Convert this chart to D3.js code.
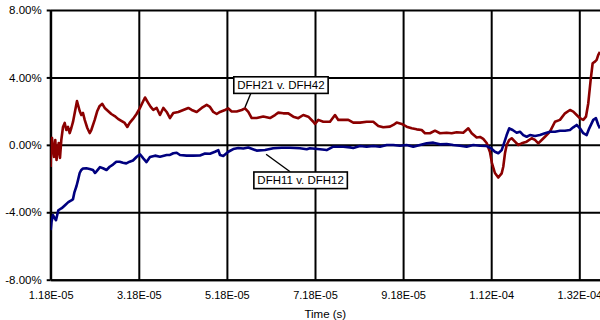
<!DOCTYPE html>
<html>
<head>
<meta charset="utf-8">
<script src="https://cdn.jsdelivr.net/npm/d3@7"></script>
<style>
  body { margin: 0; background: #fff; }
  svg { display: block; }
  text { font-family: Arial, "Liberation Sans", sans-serif; fill: #000; }
</style>
</head>
<body>
<svg id="chart" width="600" height="320"></svg>
<script>
// Relative difference between gauge pairs over time (time in microseconds, difference in %)
const seriesNames = ["DFH21 v. DFH42", "DFH11 v. DFH12"];
const seriesColors = ["#8b0000", "#00007f"];

const redTime = [11.80, 11.91, 12.10, 12.32, 12.55, 12.84, 13.12, 13.30, 13.62, 13.91, 14.21, 14.59, 14.98, 15.34, 15.73,
  16.11, 16.48, 16.86, 17.25, 17.77, 18.38, 18.75, 19.13, 19.52, 20.11, 20.65, 21.02, 21.79, 22.38, 22.92, 23.51, 24.06,
  24.81, 25.56, 26.33, 27.08, 27.83, 28.60, 29.19, 29.73, 30.48, 31.28, 32.07, 32.82, 33.21, 33.96, 34.50, 35.09, 35.86,
  36.61, 37.36, 38.13, 38.88, 39.63, 40.77, 41.90, 43.04, 43.81, 44.94, 46.08, 47.21, 47.96, 48.71, 49.48, 50.23, 51.37,
  52.12, 52.89, 54.02, 55.16, 55.91, 56.66, 57.43, 58.56, 60.06, 61.58, 62.72, 63.47, 64.60, 65.74, 66.87, 68.01, 69.14,
  70.28, 71.41, 71.80, 72.55, 73.68, 75.20, 76.34, 77.09, 78.22, 79.36, 80.49, 82.01, 83.53, 85.03, 86.17, 87.30, 88.82,
  89.57, 90.34, 91.48, 92.61, 93.75, 94.88, 96.02, 96.77, 97.90, 99.04, 100.17, 101.69, 102.83, 103.96, 105.46, 106.60,
  107.37, 108.50, 109.25, 110.00, 110.77, 111.52, 111.97, 112.65, 113.41, 114.18, 114.54, 114.93, 115.31, 115.90, 116.45,
  117.20, 117.95, 118.72, 119.85, 120.99, 121.74, 122.49, 123.26, 124.01, 125.14, 126.28, 127.41, 128.55, 129.68, 130.43,
  131.20, 131.95, 132.70, 133.31, 133.84, 134.38, 134.83, 135.36, 135.74, 136.11, 136.49];
const redPct = [-1.32, 0.29, 0.41, -0.31, -0.72, 0.29, -0.90, -0.48, 0.11, -0.78, 0.29, 1.06, 1.30, 0.88, 1.06,
  0.70, 1.00, 1.36, 1.89, 2.60, 2.01, 1.77, 1.89, 1.48, 1.00, 0.70, 0.88, 1.48, 2.01, 2.31, 2.43, 2.19,
  2.01, 1.83, 1.71, 1.54, 1.42, 1.30, 1.06, 1.30, 1.54, 1.83, 2.19, 2.60, 2.81, 2.48, 2.25, 2.07, 2.19,
  1.77, 2.19, 1.95, 1.59, 1.89, 1.95, 2.07, 2.19, 2.07, 1.95, 2.19, 2.37, 2.25, 1.95, 1.83, 1.95, 2.07,
  2.16, 1.98, 1.98, 2.07, 2.16, 1.95, 1.59, 1.59, 1.68, 1.59, 1.77, 1.91, 1.87, 1.87, 1.67, 1.58, 1.77,
  1.67, 1.37, 1.24, 1.48, 1.37, 1.37, 1.77, 1.48, 1.48, 1.48, 1.32, 1.32, 1.37, 1.37, 1.12, 1.04, 1.08,
  1.18, 1.32, 1.24, 1.08, 0.98, 0.92, 0.88, 0.69, 0.69, 0.84, 0.69, 0.72, 0.69, 0.75, 0.72, 0.98,
  0.69, 0.44, 0.47, 0.35, 0.11, -0.42, -1.08, -1.67, -1.94, -1.69, -1.30, -0.50, -0.01, 0.29, 0.39,
  0.19, -0.01, 0.09, 0.19, 0.39, 0.29, 0.09, 0.29, 0.48, 0.78, 1.37, 1.48, 1.87, 2.07, 1.97,
  1.77, 1.58, 1.48, 1.67, 2.47, 3.85, 4.84, 4.94, 5.04, 5.34, 5.51];

const blueTime = [11.80, 11.98, 12.32, 12.71, 13.00, 13.53, 14.30, 15.05, 15.80, 16.57, 16.86, 17.20, 17.66, 18.00, 18.38,
  18.75, 19.13, 19.88, 20.65, 21.40, 21.86, 22.15, 22.99, 23.67, 24.47, 25.19, 25.94, 26.69, 27.46, 28.21, 28.96, 29.73,
  30.48, 31.28, 31.84, 32.07, 32.82, 33.55, 34.34, 35.48, 36.61, 38.13, 38.88, 39.63, 40.40, 41.15, 42.67, 44.17, 45.69,
  46.83, 47.96, 49.10, 49.85, 50.23, 50.98, 52.12, 53.25, 54.39, 55.52, 56.66, 58.56, 60.45, 62.33, 64.24, 66.12, 68.39,
  69.91, 70.66, 72.93, 74.45, 75.95, 78.22, 79.74, 80.49, 82.01, 83.53, 85.03, 86.55, 88.07, 89.57, 91.09, 92.61, 94.11,
  95.63, 97.15, 98.65, 100.17, 101.69, 103.19, 104.71, 106.23, 107.73, 109.25, 110.77, 111.75, 112.65, 113.41, 114.18,
  114.70, 115.31, 115.90, 116.67, 117.58, 118.33, 119.08, 119.85, 120.60, 121.74, 122.87, 124.01, 125.14, 126.28, 127.41,
  128.55, 129.68, 130.43, 131.20, 131.95, 132.70, 133.47, 134.06, 134.97, 135.58, 136.11, 136.49];
const bluePct = [-5.06, -4.58, -4.17, -4.35, -4.47, -3.88, -3.76, -3.58, -3.40, -3.28, -3.22, -2.80, -2.44, -2.09, -1.67,
  -1.49, -1.40, -1.39, -1.43, -1.49, -1.67, -1.59, -1.32, -1.39, -1.49, -1.30, -1.17, -1.00, -1.00, -1.06, -1.10, -1.00,
  -0.93, -0.72, -0.60, -0.56, -0.80, -1.02, -0.72, -0.64, -0.70, -0.60, -0.60, -0.50, -0.47, -0.60, -0.64, -0.64, -0.63,
  -0.51, -0.53, -0.41, -0.31, -0.60, -0.66, -0.41, -0.25, -0.19, -0.22, -0.16, -0.34, -0.31, -0.20, -0.17, -0.17, -0.20,
  -0.26, -0.20, -0.26, -0.31, -0.11, -0.11, -0.15, -0.19, -0.07, -0.11, -0.07, -0.11, -0.01, -0.01, -0.05, -0.01, -0.11,
  -0.01, 0.09, 0.13, 0.03, 0.05, -0.01, -0.05, -0.11, -0.01, -0.05, -0.07, -0.20, -0.41, -0.50, -0.31,
  0.09, 0.58, 0.98, 0.88, 0.72, 0.78, 0.58, 0.48, 0.58, 0.53, 0.58, 0.69, 0.78, 0.78, 0.84,
  0.84, 0.88, 1.04, 1.18, 0.98, 0.69, 0.58, 0.98, 1.48, 1.58, 1.18, 0.98];

const xTickValues = [11.8, 31.8, 51.8, 71.8, 91.8, 111.8, 131.8];
const xTickLabels = ["1.18E-05", "3.18E-05", "5.18E-05", "7.18E-05", "9.18E-05", "1.12E-04", "1.32E-04"];
const yTickValues = [-8, -4, 0, 4, 8];
const yTickLabels = ["-8.00%", "-4.00%", "0.00%", "4.00%", "8.00%"];
const xTitle = "Time (s)";

// Callout anchor points on each series (time, %)
const calloutAnchors = [[55.9, 2.21], [60.7, -0.56]];

const svg = d3.select("#chart");
const plot = { left: 50.7, right: 600, top: 10, bottom: 279.7 };
const plotW = plot.right - plot.left, plotH = plot.bottom - plot.top;

const x = d3.scaleLinear().domain([11.8, 136.5]).range([plot.left, plot.right]);
const y = d3.scaleLinear().domain([-8, 8]).range([plot.bottom, plot.top]);

svg.append("defs").append("clipPath").attr("id", "plotClip")
  .append("rect").attr("x", plot.left).attr("y", plot.top - 4)
  .attr("width", plotW).attr("height", plotH + 8);

// Gridlines
const gridX = svg.append("g").attr("transform", `translate(0,${plot.bottom})`)
  .call(d3.axisBottom(x).tickValues(xTickValues).tickSize(-plotH).tickFormat(""));
gridX.select(".domain").remove();
gridX.selectAll("line").attr("stroke", "#000").attr("stroke-width", 2);

const gridY = svg.append("g").attr("transform", `translate(${plot.left},0)`)
  .call(d3.axisLeft(y).tickValues(yTickValues).tickSizeInner(-plotW).tickSizeOuter(0).tickFormat(""));
gridY.select(".domain").remove();
gridY.selectAll("line").attr("stroke", "#000").attr("stroke-width", 2);

// Y axis with outward ticks and labels
const yAxis = svg.append("g").attr("transform", `translate(${plot.left},0)`)
  .call(d3.axisLeft(y).tickValues(yTickValues).tickSize(4).tickPadding(5)
    .tickFormat((d, i) => yTickLabels[i]));
yAxis.select(".domain").attr("stroke", "#000").attr("stroke-width", 2)
  .attr("d", `M0,${plot.top}V${plot.bottom}`);
yAxis.selectAll("line").attr("stroke", "#000").attr("stroke-width", 2);
yAxis.selectAll("text").attr("font-size", 11.5).attr("font-family", "Arial, 'Liberation Sans', sans-serif");

// X axis labels
const xAxis = svg.append("g").attr("transform", `translate(0,${plot.bottom})`)
  .call(d3.axisBottom(x).tickValues(xTickValues).tickSize(0).tickPadding(12)
    .tickFormat((d, i) => xTickLabels[i]));
xAxis.select(".domain").attr("stroke", "#000").attr("stroke-width", 2);
xAxis.selectAll("text").attr("font-size", 11).attr("font-family", "Arial, 'Liberation Sans', sans-serif");

svg.append("text").attr("x", (plot.left + plot.right) / 2).attr("y", 318)
  .attr("text-anchor", "middle").attr("font-size", 11.5).text(xTitle);

// Series lines
const series = [
  { times: redTime, values: redPct },
  { times: blueTime, values: bluePct }
];
const line = d3.line().x(d => x(d[0])).y(d => y(d[1]));
const linesG = svg.append("g").attr("clip-path", "url(#plotClip)");
series.forEach((s, i) => {
  linesG.append("path")
    .datum(d3.zip(s.times, s.values))
    .attr("fill", "none")
    .attr("stroke", seriesColors[i])
    .attr("stroke-width", 2.6)
    .attr("stroke-linejoin", "round")
    .attr("d", line);
});

// Callout labels with leader lines
const calloutOffsets = [{ dx: 36, dy: -22.5, lx: 6, ly: -14.5 }, { dx: 34.5, dy: 26, lx: 24, ly: 17.5 }];
seriesNames.forEach((name, i) => {
  const ax = x(calloutAnchors[i][0]), ay = y(calloutAnchors[i][1]);
  const o = calloutOffsets[i];
  const g = svg.append("g");
  g.append("line").attr("x1", ax).attr("y1", ay).attr("x2", ax + o.lx).attr("y2", ay + o.ly)
    .attr("stroke", "#000").attr("stroke-width", 1.4);
  const cx = ax + o.dx, cy = ay + o.dy;
  const rect = g.append("rect").attr("fill", "#fff").attr("stroke", "#000").attr("stroke-width", 1.6);
  const t = g.append("text").attr("x", cx).attr("y", cy).attr("text-anchor", "middle")
    .attr("dominant-baseline", "central").attr("font-size", 11.5).text(name);
  const bb = t.node().getBBox();
  rect.attr("x", bb.x - 3.5).attr("y", cy - 8.3).attr("width", bb.width + 7).attr("height", 16.6);
});
</script>
</body>
</html>
